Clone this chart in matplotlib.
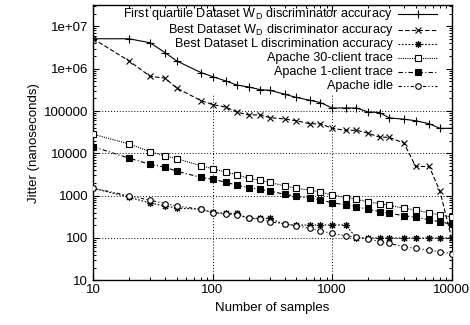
import matplotlib
matplotlib.use("Agg")
import matplotlib.pyplot as plt
from matplotlib.ticker import LogLocator, NullFormatter

plt.rcParams["font.family"] = ["Liberation Sans", "DejaVu Sans"]
plt.rcParams["mathtext.fontset"] = "custom"
plt.rcParams["mathtext.rm"] = "Liberation Sans"
plt.rcParams["mathtext.it"] = "Liberation Sans:italic"
plt.rcParams["font.size"] = 9.5

# number of samples (x axis)
samples = [10, 20, 30, 40, 50, 80, 100, 130, 160, 200, 250, 300, 400, 500,
           650, 800, 1000, 1300, 1600, 2000, 2500, 3000, 4000, 5000, 6500,
           8000, 10000]

# jitter in nanoseconds
first_quartile_wd = [5.1e6, 5.1e6, 4.1e6, 2.4e6, 1.53e6, 8.1e5, 6.5e5, 5.1e5,
                     4.1e5, 3.7e5, 3.2e5, 3.1e5, 2.5e5, 2.1e5, 1.8e5, 1.58e5,
                     1.18e5, 1.18e5, 1.18e5, 9.5e4, 9.2e4, 6.9e4, 6.4e4,
                     5.9e4, 5.0e4, 3.9e4, 3.9e4]
best_wd = [5.1e6, 1.53e6, 6.6e5, 6.0e5, 3.5e5, 1.76e5, 1.42e5, 1.23e5, 9.4e4,
           8.1e4, 8.1e4, 7.0e4, 6.5e4, 5.9e4, 5.0e4, 5.0e4, 3.9e4, 3.5e4,
           3.5e4, 3.0e4, 2.4e4, 2.4e4, 1.74e4, 4.9e3, 4.9e3, 1.26e3, 100]
best_l = [1500, 916, 671, 570, 512, 477, 401, 384, 380, 292, 292, 292, 209,
          200, 203, 203, 203, 203, 100, 100, 100, 100, 100, 100, 100, 100,
          100]
apache_30 = [2.83e4, 1.67e4, 1.1e4, 8700, 7500, 5100, 4350, 3570, 3130, 2570,
             2310, 2070, 1700, 1500, 1360, 1220, 1040, 900, 823, 710, 648,
             593, 504, 459, 390, 350, 313]
apache_1 = [1.44e4, 7700, 5500, 4700, 3800, 2700, 2440, 2070, 1760, 1550,
            1420, 1290, 1080, 968, 869, 791, 684, 603, 550, 477, 419, 384,
            337, 308, 267, 243, 211]
apache_idle = [1500, 1000, 780, 650, 570, 477, 396, 363, 350, 292, 277, 243,
               214, 195, 169, 146, 129, 113, 104, 95, 82, 75, 62, 57, 52,
               47, 43]

labels = [
    r"First quartile Dataset W$_\mathrm{D}$ discriminator accuracy",
    r"Best Dataset W$_\mathrm{D}$ discriminator accuracy",
    "Best Dataset L discrimination accuracy",
    "Apache 30-client trace",
    "Apache 1-client trace",
    "Apache idle",
]
x_ticks = [10, 100, 1000, 10000]
y_ticks = [10, 100, 1000, 10000, 100000, 1e6, 1e7]
y_tick_labels = ["10", "100", "1000", "10000", "100000", "1e+06", "1e+07"]

fig = plt.figure(figsize=(4.7, 3.25), dpi=100)
ax = fig.add_axes([0.198, 0.1375, 0.7628, 0.8471])

styles = [
    dict(ls="-", marker="+", ms=6, mfc="black"),
    dict(ls=(0, (4, 2)), marker="x", ms=4, mfc="black"),
    dict(ls=(0, (1.5, 1.5)), marker=(8, 2, 0), ms=5, mfc="black"),
    dict(ls=(0, (1, 1)), marker="s", ms=4, mfc="white"),
    dict(ls=(0, (4, 2, 1, 2)), marker="s", ms=4.5, mfc="black"),
    dict(ls=(0, (3, 2, 1, 2, 1, 2)), marker="o", ms=4, mfc="white"),
]
data = [first_quartile_wd, best_wd, best_l, apache_30, apache_1, apache_idle]

for values, st in zip(data, styles):
    ax.plot(samples, values, color="black", lw=0.8, mec="black", mew=0.8,
            zorder=3, **st)

ax.set_xscale("log")
ax.set_yscale("log")
ax.set_xlim(10, 10000)
ax.set_ylim(10, 3.2e7)

# gnuplot style key: right aligned text, sample line on the right
key_rows = [0.967, 0.909, 0.857, 0.806, 0.755, 0.704]
for ky, label, st in zip(key_rows, labels, styles):
    ax.text(0.837, ky, label, transform=ax.transAxes, ha="right", va="center",
            fontsize=9.1)
    ax.plot([0.851, 0.9055, 0.960], [ky, ky, ky], transform=ax.transAxes,
            color="black", lw=0.8, mec="black", mew=0.8, markevery=[1],
            clip_on=False, **st)

# gnuplot-like grid, kept out of the key area
for y in [100, 1000, 10000, 100000]:
    ax.axhline(y, color="black", lw=0.7, ls=(0, (1, 2)), zorder=1)
for x in [100, 1000]:
    ax.axvline(x, ymax=0.672, color="black", lw=0.7, ls=(0, (1, 2)), zorder=1)

ax.set_xticks(x_ticks)
ax.set_xticklabels([str(t) for t in x_ticks])
ax.set_yticks(y_ticks)
ax.set_yticklabels(y_tick_labels)
ax.xaxis.set_minor_locator(LogLocator(base=10, subs=range(2, 10)))
ax.yaxis.set_minor_locator(LogLocator(base=10, subs=range(2, 10)))
ax.xaxis.set_minor_formatter(NullFormatter())
ax.yaxis.set_minor_formatter(NullFormatter())
ax.tick_params(which="both", direction="in", top=True, right=True)
ax.tick_params(which="major", length=4.5, width=0.8)
ax.tick_params(which="minor", length=2.3, width=0.7)
ax.tick_params(axis="x", pad=3)
ax.tick_params(axis="y", pad=3.5)
for sp in ax.spines.values():
    sp.set_linewidth(1.0)

ax.set_xlabel("Number of samples", labelpad=4)
ax.set_ylabel("Jitter (nanoseconds)", labelpad=3)

fig.savefig("out.png", dpi=100)
